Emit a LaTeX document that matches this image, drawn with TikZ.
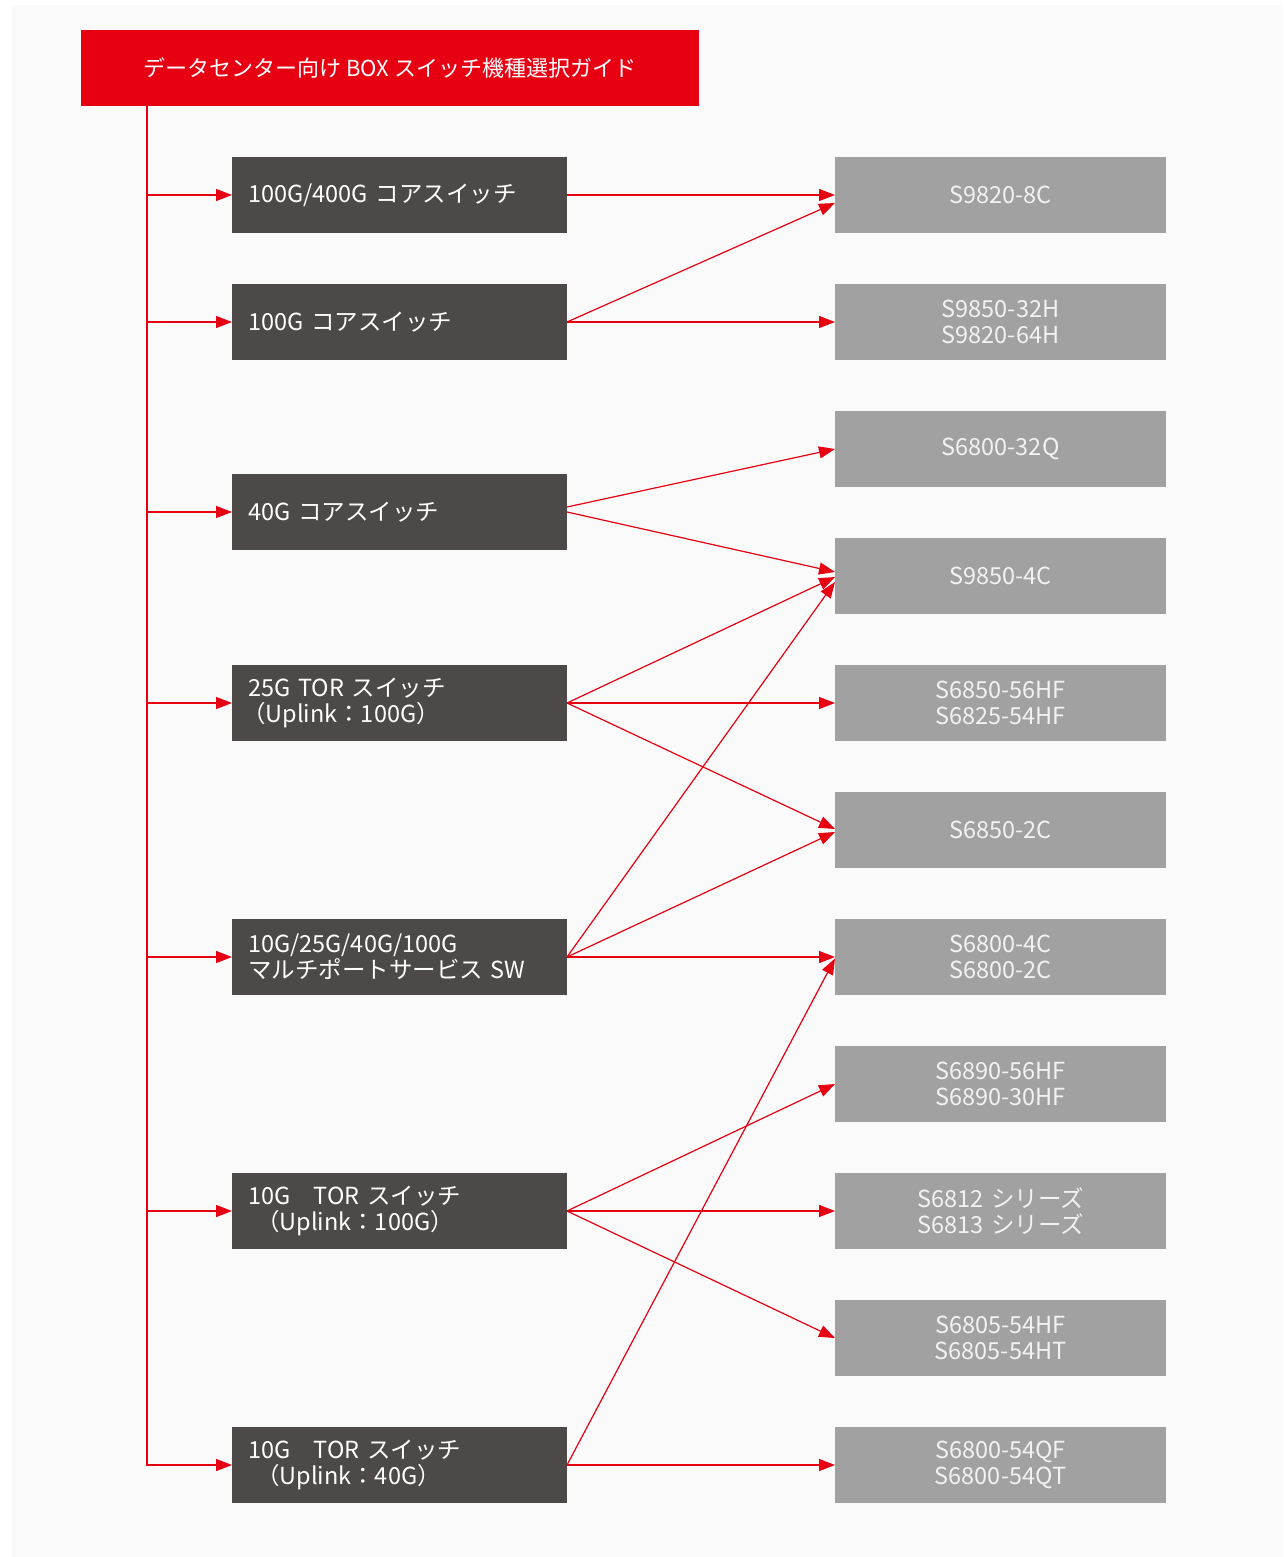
\documentclass[tikz,border=0pt]{standalone}
\usepackage{fontspec}
\setmainfont{Noto Sans CJK JP}
\usetikzlibrary{arrows.meta}
\definecolor{cred}{HTML}{E60012}
\definecolor{cdark}{HTML}{4D4948}
\definecolor{cgray}{HTML}{A0A1A0}
\definecolor{cbg}{HTML}{FAFAFA}
\definecolor{ctxt}{HTML}{F2F2F2}
\begin{document}
\begin{tikzpicture}[x=1pt,y=-1pt,
  titlebox/.style={fill=cred, text=white, minimum width=618pt, minimum height=76pt,
    inner sep=0pt, outer sep=0pt, anchor=north west, font=\fontsize{22}{26}\selectfont},
  leftbox/.style={fill=cdark, text=white, minimum height=76pt, text width=303pt,
    inner xsep=16pt, inner ysep=0pt, outer sep=0pt, align=left, anchor=north west,
    font=\fontsize{23.5}{26}\selectfont},
  rightbox/.style={fill=cgray, text=ctxt, minimum height=76pt, text width=299pt,
    inner xsep=16pt, inner ysep=0pt, outer sep=0pt, align=center, anchor=north west,
    font=\fontsize{23.5}{26}\selectfont},
  arr/.style={draw=cred, line width=1.2pt, -{Triangle[length=16pt,width=12pt]}}]
\useasboundingbox (0,0) rectangle (1283,1557);
\fill[white] (0,0) rectangle (1283,1557);
\fill[cbg] (12,5) rectangle (1283,1557);

\node[titlebox] (title) at (81,30) {データセンター向け BOX スイッチ機種選択ガイド};

\node[leftbox] (L1) at (232,157) {100G/400G コアスイッチ};
\node[leftbox] (L2) at (232,284) {100G コアスイッチ};
\node[leftbox] (L3) at (232,474) {40G コアスイッチ};
\node[leftbox] (L4) at (232,665) {25G TOR スイッチ\\\hspace*{-6pt}（Uplink：100G）};
\node[leftbox] (L5) at (232,919) {10G/25G/40G/100G\\マルチポートサービス SW};
\node[leftbox] (L6) at (232,1173) {10G　TOR スイッチ\\\hspace*{8pt}（Uplink：100G）};
\node[leftbox] (L7) at (232,1427) {10G　TOR スイッチ\\\hspace*{8pt}（Uplink：40G）};

\node[rightbox] (R1) at (835,157) {S9820-8C};
\node[rightbox] (R2) at (835,284) {S9850-32H\\S9820-64H};
\node[rightbox] (R3) at (835,411) {S6800-32Q};
\node[rightbox] (R4) at (835,538) {S9850-4C};
\node[rightbox] (R5) at (835,665) {S6850-56HF\\S6825-54HF};
\node[rightbox] (R6) at (835,792) {S6850-2C};
\node[rightbox] (R7) at (835,919) {S6800-4C\\S6800-2C};
\node[rightbox] (R8) at (835,1046) {S6890-56HF\\S6890-30HF};
\node[rightbox] (R9) at (835,1173) {S6812 シリーズ\\S6813 シリーズ};
\node[rightbox] (R10) at (835,1300) {S6805-54HF\\S6805-54HT};
\node[rightbox] (R11) at (835,1427) {S6800-54QF\\S6800-54QT};

\coordinate (t0) at ([xshift=66pt]title.south west);
\draw[arr] (t0) |- (L7.west);
\foreach \n in {L1,L2,L3,L4,L5,L6} {
  \draw[arr] (t0 |- \n.west) -- (\n.west);
}

\draw[arr] (L1.east) -- (R1.west);
\draw[arr] (L2.east) -- ([yshift=-8pt]R1.west);
\draw[arr] (L2.east) -- (R2.west);
\draw[arr] ([yshift=5pt]L3.east) -- (R3.west);
\draw[arr] (L3.east) -- ([yshift=4pt]R4.west);
\draw[arr] (L4.east) -- ([yshift=-1pt]R4.west);
\draw[arr] (L4.east) -- (R5.west);
\draw[arr] (L4.east) -- ([yshift=1pt]R6.west);
\draw[arr] (L5.east) -- ([yshift=-6pt]R4.west);
\draw[arr] (L5.east) -- ([yshift=-2pt]R6.west);
\draw[arr] (L5.east) -- (R7.west);
\draw[arr] (L6.east) -- (R8.west);
\draw[arr] (L6.east) -- (R9.west);
\draw[arr] (L6.east) -- (R10.west);
\draw[arr] (L7.east) -- ([yshift=-1.5pt]R7.west);
\draw[arr] (L7.east) -- (R11.west);
\end{tikzpicture}
\end{document}
